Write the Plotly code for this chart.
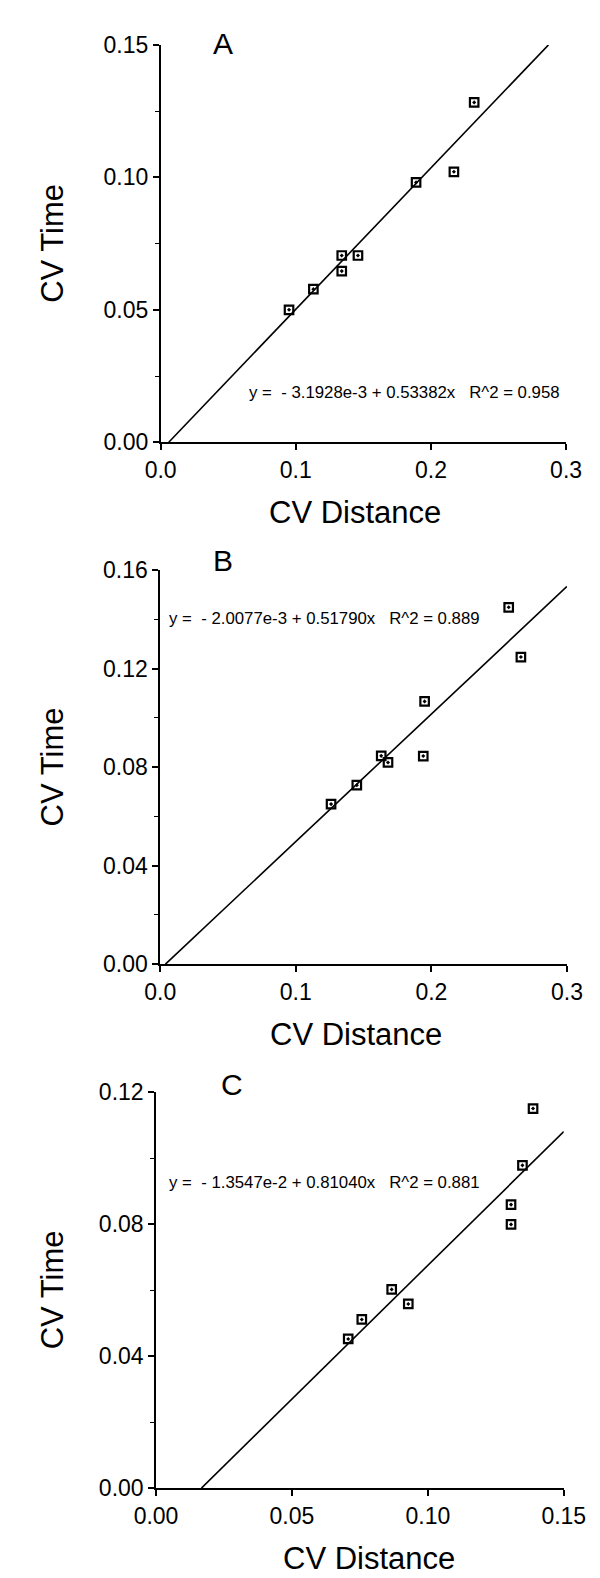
import plotly.graph_objects as go

# ---------------- data ----------------
a_x = [0.095, 0.113, 0.134, 0.134, 0.146, 0.189, 0.217, 0.232]
a_y = [0.0500, 0.0578, 0.0705, 0.0646, 0.0705, 0.0981, 0.1021, 0.1283]
a_intercept = -3.1928e-3
a_slope = 0.53382

b_x = [0.126, 0.145, 0.163, 0.168, 0.194, 0.195, 0.257, 0.266]
b_y = [0.0650, 0.0727, 0.0846, 0.0819, 0.0845, 0.1067, 0.1449, 0.1247]
b_intercept = -2.0077e-3
b_slope = 0.51790

c_x = [0.0707, 0.0757, 0.0867, 0.0928, 0.1306, 0.1306, 0.1348, 0.1387]
c_y = [0.0452, 0.0511, 0.0602, 0.0558, 0.0859, 0.0799, 0.0978, 0.1150]
c_intercept = -1.3547e-2
c_slope = 0.81040

panel_labels = ["A", "B", "C"]
eq_texts = [
    "y =  - 3.1928e-3 + 0.53382x   R^2 = 0.958",
    "y =  - 2.0077e-3 + 0.51790x   R^2 = 0.889",
    "y =  - 1.3547e-2 + 0.81040x   R^2 = 0.881",
]
x_ranges = [[0, 0.3], [0, 0.3], [0, 0.15]]
y_ranges = [[0, 0.15], [0, 0.16], [0, 0.12]]
x_dticks = [0.1, 0.1, 0.05]
y_dticks = [0.05, 0.04, 0.04]
x_formats = [".1f", ".1f", ".2f"]
y_formats = [".2f", ".2f", ".2f"]

# ---------------- layout geometry ----------------
W, H = 600, 1578
px_x = [(141, 578.5), (140.5, 579.5), (136, 576)]
px_y = [(24.3, 428.3), (558.3, 959), (1089, 1491.7)]
eq_pos = [(0.1805, 0.0186), (0.1215, 0.1405), (0.0620, 0.0927)]   # centre, data coords
lab_x = [0.046, 0.0464, 0.0281]                                  # data coords
lab_shift = [1, 9.5, 8]                                          # px above top of axis
xtitle_px = [351, 352, 366]
ytitle_px = 24

FONT = "Liberation Sans, Arial, Helvetica, sans-serif"
fig = go.Figure()
datasets = [(a_x, a_y, a_intercept, a_slope), (b_x, b_y, b_intercept, b_slope),
            (c_x, c_y, c_intercept, c_slope)]

annotations = []
for i, (xs, ys, b0, m) in enumerate(datasets):
    xa = "x" if i == 0 else f"x{i+1}"
    ya = "y" if i == 0 else f"y{i+1}"
    xmax = x_ranges[i][1]
    ymax = y_ranges[i][1]
    x_start = -b0 / m
    x_end = min(xmax, (ymax - b0) / m)
    fig.add_trace(go.Scatter(x=[x_start, x_end], y=[b0 + m * x_start, b0 + m * x_end],
                             mode="lines", line=dict(color="black", width=1.6),
                             xaxis=xa, yaxis=ya, showlegend=False, cliponaxis=False))
    fig.add_trace(go.Scatter(x=xs, y=ys, mode="markers",
                             marker=dict(symbol="square-open-dot", size=8.5, color="black",
                                         line=dict(width=2.2, color="black")),
                             xaxis=xa, yaxis=ya, showlegend=False, cliponaxis=False))
    key = "" if i == 0 else str(i + 1)
    x0, x1 = px_x[i]
    y0, y1 = px_y[i]
    fig.layout[f"xaxis{key}"] = dict(
        domain=[x0 / W, x1 / W], range=x_ranges[i], anchor=ya,
        showgrid=False, zeroline=False, showline=True, linecolor="black", linewidth=1.6,
        ticks="outside", ticklen=6, tickwidth=1.5, tickcolor="black",
        dtick=x_dticks[i], tick0=0, tickformat=x_formats[i],
        tickfont=dict(family=FONT, size=23, color="black"), fixedrange=True)
    fig.layout[f"yaxis{key}"] = dict(
        domain=[1 - y1 / H, 1 - y0 / H], range=y_ranges[i], anchor=xa,
        showgrid=False, zeroline=False, showline=True, linecolor="black", linewidth=1.6,
        ticks="outside", ticklen=6, tickwidth=1.5, tickcolor="black",
        dtick=y_dticks[i], tick0=0, tickformat=y_formats[i],
        minor=dict(ticks="outside", ticklen=4, tickwidth=1.2, tickcolor="black",
                   dtick=y_dticks[i] / 2),
        tickfont=dict(family=FONT, size=23, color="black"), fixedrange=True)

    ex, ey = eq_pos[i]
    annotations.append(dict(x=ex, y=ey, xref=xa, yref=ya,
                            text=eq_texts[i].replace(" ", "\u00a0"),
                            showarrow=False, xanchor="center", yanchor="middle",
                            font=dict(family=FONT, size=16.8, color="black")))
    annotations.append(dict(x=lab_x[i], y=1, xref=xa, yref=f"{ya} domain",
                            yshift=lab_shift[i], text=panel_labels[i],
                            showarrow=False, xanchor="center", yanchor="middle",
                            font=dict(family=FONT, size=30, color="black")))
    annotations.append(dict(x=ytitle_px / W, y=0.5, xref="paper", yref=f"{ya} domain",
                            text="CV Time", textangle=-90, showarrow=False,
                            xanchor="center", yanchor="middle",
                            font=dict(family=FONT, size=31, color="black")))
    annotations.append(dict(x=xtitle_px[i] / W, y=0, xref="paper", yref=f"{ya} domain",
                            yshift=-70, text="CV Distance", showarrow=False,
                            xanchor="center", yanchor="middle",
                            font=dict(family=FONT, size=31, color="black")))

fig.update_layout(width=W, height=H, margin=dict(l=0, r=0, t=0, b=0),
                  paper_bgcolor="white", plot_bgcolor="white",
                  annotations=annotations, showlegend=False,
                  font=dict(family=FONT, color="black"))

fig.write_html("out.html")
